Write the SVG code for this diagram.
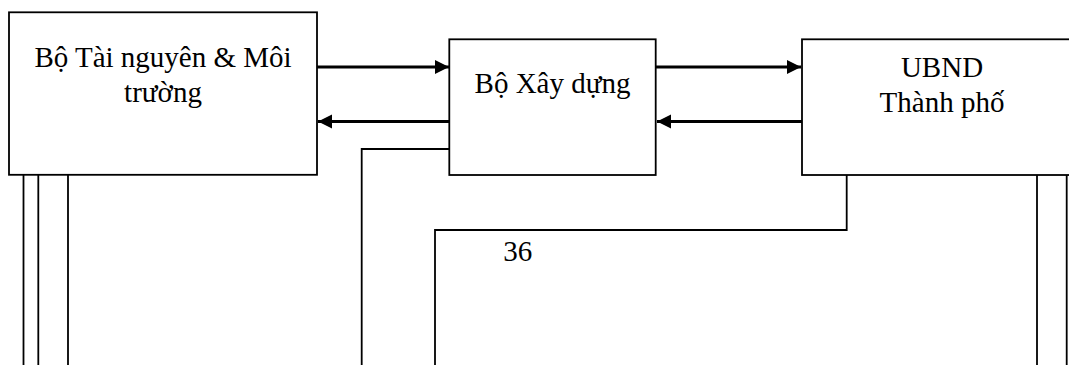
<svg xmlns="http://www.w3.org/2000/svg" width="1069" height="365" viewBox="0 0 1069 365">
<style>
.box{fill:#fff;stroke:#000;stroke-width:1.8}
.t{font-size:29px;fill:#000;text-anchor:middle}
.c{fill:none;stroke:#000;stroke-width:1.8}
.a{fill:none;stroke:#000;stroke-width:3}
</style>
<defs>
<marker id="ah" markerUnits="userSpaceOnUse" markerWidth="15" markerHeight="15" refX="14" refY="7" orient="auto">
<path d="M0,0 L14,7 L0,14 Z" fill="#000"/>
</marker>
</defs>
<rect width="1069" height="365" fill="#fff"/>
<g id="connectors">
<line class="a" x1="317" y1="67" x2="449" y2="67" marker-end="url(#ah)"/>
<line class="a" x1="449" y1="121.5" x2="318" y2="121.5" marker-end="url(#ah)"/>
<line class="a" x1="656" y1="67" x2="801" y2="67" marker-end="url(#ah)"/>
<line class="a" x1="802" y1="121.5" x2="657" y2="121.5" marker-end="url(#ah)"/>
<polyline class="c" points="449,149 361.7,149 361.7,365"/>
<polyline class="c" points="846.7,175 846.7,230 435,230 435,365"/>
<line class="c" x1="23.5" y1="175" x2="23.5" y2="365"/>
<line class="c" x1="38.3" y1="175" x2="38.3" y2="365"/>
<line class="c" x1="68" y1="175" x2="68" y2="365"/>
<line class="c" x1="1037" y1="175" x2="1037" y2="365"/>
<line class="c" x1="1066.7" y1="175" x2="1066.7" y2="365"/>
</g>
<g font-family="Liberation Serif, DejaVu Serif, serif">
<g id="node-botnmt">
<rect class="box" x="9" y="12.3" width="308" height="162.5"/>
<text class="t" x="163" y="66.5">Bộ Tài nguyên &amp; Môi</text>
<text class="t" x="163" y="101.5">trường</text>
</g>
<g id="node-boxd">
<rect class="box" x="449.3" y="39.3" width="206.4" height="135.7"/>
<text class="t" x="552.5" y="93">Bộ Xây dựng</text>
</g>
<g id="node-ubnd">
<rect class="box" x="802" y="39.3" width="280" height="135.7"/>
<text class="t" x="942" y="77">UBND</text>
<text class="t" x="942" y="111.5">Thành phố</text>
</g>
<text class="t" x="517.7" y="261">36</text>
</g>
</svg>
